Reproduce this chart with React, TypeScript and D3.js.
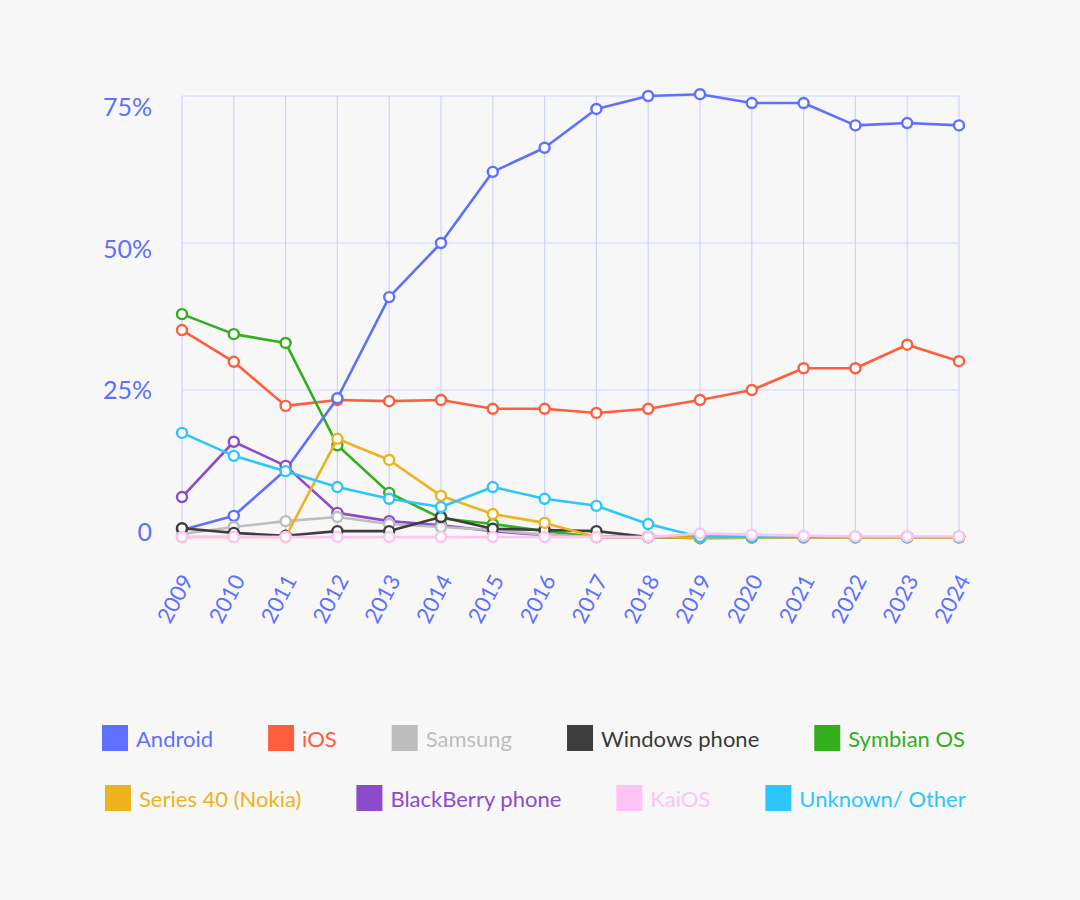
import { useEffect, useRef } from "react";
import * as d3 from "d3";

const years = [
  "2009", "2010", "2011", "2012", "2013", "2014", "2015", "2016",
  "2017", "2018", "2019", "2020", "2021", "2022", "2023", "2024",
];

const android = [1.2, 3.6, 11.4, 23.6, 40.8, 50, 62.1, 66.2, 72.8, 75, 75.3, 73.8, 73.8, 70, 70.4, 70];
const ios = [35.2, 29.8, 22.3, 23.3, 23.1, 23.3, 21.8, 21.8, 21.1, 21.8, 23.3, 25, 28.7, 28.7, 32.7, 29.9];
const samsung = [0.5, 1.7, 2.7, 3.4, 2.2, 1.7, 1.2, 0.4, 0, 0, 0, 0, 0, 0, 0, 0];
const windowsPhone = [1.5, 0.7, 0.2, 1.0, 1.0, 3.4, 1.4, 1.2, 1.0, 0, 0, 0, 0, 0, 0, 0];
const symbian = [37.9, 34.5, 33, 15.6, 7.5, 3.2, 2.2, 1.0, 0, 0, -0.2, -0.1, 0, 0, 0, 0];
const series40 = [0, 0, 0, 16.7, 13.1, 7.0, 3.9, 2.4, 0, 0, -0.1, -0.1, -0.1, -0.1, -0.1, -0.1];
const blackberry = [6.8, 16.2, 12.1, 4.1, 2.7, 2.0, 1.0, 0.3, 0, 0, 0, 0, 0, 0, 0, 0];
const kaios = [0, 0, 0, 0, 0, 0, 0, 0, 0, 0, 0.6, 0.4, 0.2, 0.1, 0.1, 0.1];
const unknownOther = [17.7, 13.8, 11.2, 8.5, 6.5, 5.1, 8.5, 6.5, 5.3, 2.2, 0, 0, 0, 0, 0, 0];

const yTicks = [0, 25, 50, 75];
const yTickLabels = ["0", "25%", "50%", "75%"];

const legendRows = [
  ["Android", "iOS", "Samsung", "Windows phone", "Symbian OS"],
  ["Series 40 (Nokia)", "BlackBerry phone", "KaiOS", "Unknown/ Other"],
];

const seriesList = [
  { name: "Android", values: android, color: "#5F6FFF", text: "#5F6FFF" },
  { name: "iOS", values: ios, color: "#FF5E3D", text: "#FF5E3D" },
  { name: "Samsung", values: samsung, color: "#BDBDBD", text: "#BDBDBD" },
  { name: "Windows phone", values: windowsPhone, color: "#3E3E3E", text: "#3A3A3A" },
  { name: "Symbian OS", values: symbian, color: "#33AE1C", text: "#33AE1C" },
  { name: "Series 40 (Nokia)", values: series40, color: "#EEB21E", text: "#EEB21E" },
  { name: "BlackBerry phone", values: blackberry, color: "#8B4BCB", text: "#8B4BCB" },
  { name: "KaiOS", values: kaios, color: "#FFC2F4", text: "#FFC2F4" },
  { name: "Unknown/ Other", values: unknownOther, color: "#2CC6FB", text: "#2CC6FB" },
];

// bottom -> top
const drawOrder = [
  "iOS", "Symbian OS", "Android", "BlackBerry phone", "Samsung",
  "Windows phone", "Series 40 (Nokia)", "Unknown/ Other", "KaiOS",
];

const WIDTH = 1080;
const HEIGHT = 900;
const FONT = "Lato, 'Open Sans', sans-serif";
const AXIS_COLOR = "#5F6FFF";
const GRID_COLOR = "#CDD3FF";

export default function App() {
  const svgRef = useRef<SVGSVGElement>(null);

  useEffect(() => {
    const svg = d3.select(svgRef.current);
    svg.selectAll("*").remove();

    svg.append("rect").attr("width", WIDTH).attr("height", HEIGHT).attr("fill", "#F7F7F7");

    const x = d3.scalePoint<string>().domain(years).range([182, 959]);
    const y = d3.scaleLinear().domain([0, 75]).range([537, 96]);
    // the tick labels sit slightly off the grid lines in the original
    const yLabel = d3.scaleLinear().domain([0, 75]).range([531, 106]);

    const grid = svg.append("g");
    grid
      .selectAll("line.v")
      .data(years)
      .join("line")
      .attr("x1", (d) => x(d)!)
      .attr("x2", (d) => x(d)!)
      .attr("y1", y(75))
      .attr("y2", y(0))
      .attr("stroke", GRID_COLOR)
      .attr("stroke-width", 1.2);
    grid
      .selectAll("line.h")
      .data(yTicks.filter((t) => t > 0))
      .join("line")
      .attr("x1", x(years[0])!)
      .attr("x2", x(years[years.length - 1])!)
      .attr("y1", (d) => y(d))
      .attr("y2", (d) => y(d))
      .attr("stroke", GRID_COLOR)
      .attr("stroke-width", 1.2);

    svg
      .append("g")
      .selectAll("text")
      .data(yTicks)
      .join("text")
      .attr("x", 152)
      .attr("y", (d) => yLabel(d))
      .attr("text-anchor", "end")
      .attr("dominant-baseline", "central")
      .attr("font-family", FONT)
      .attr("font-size", 25)
      .attr("fill", AXIS_COLOR)
      .text((_, i) => yTickLabels[i]);

    svg
      .append("g")
      .selectAll("text")
      .data(years)
      .join("text")
      .attr("transform", (d) => `translate(${x(d)! + 12},${580}) rotate(-62)`)
      .attr("text-anchor", "end")
      .attr("font-family", FONT)
      .attr("font-size", 22)
      .attr("fill", AXIS_COLOR)
      .text((d) => d);

    const line = d3
      .line<number>()
      .x((_, i) => x(years[i])!)
      .y((d) => y(d));

    drawOrder.forEach((name) => {
      const s = seriesList.find((d) => d.name === name)!;
      const g = svg.append("g");
      g.append("path")
        .attr("d", line(s.values))
        .attr("fill", "none")
        .attr("stroke", s.color)
        .attr("stroke-width", 2.6)
        .attr("stroke-linejoin", "round");
      g.selectAll("circle")
        .data(s.values)
        .join("circle")
        .attr("cx", (_, i) => x(years[i])!)
        .attr("cy", (d) => y(d))
        .attr("r", 5)
        .attr("fill", "#FFFFFF")
        .attr("stroke", s.color)
        .attr("stroke-width", 2.4);
    });

    const legend = svg.append("g");
    const rowY = [738, 798];
    const rowStart = [102, 105];
    legendRows.forEach((row, r) => {
      let cx = rowStart[r];
      row.forEach((name) => {
        const s = seriesList.find((d) => d.name === name)!;
        legend
          .append("rect")
          .attr("x", cx)
          .attr("y", rowY[r] - 13)
          .attr("width", 26)
          .attr("height", 26)
          .attr("fill", s.color);
        const t = legend
          .append("text")
          .attr("x", cx + 34)
          .attr("y", rowY[r])
          .attr("dominant-baseline", "central")
          .attr("font-family", FONT)
          .attr("font-size", 22)
          .attr("fill", s.text)
          .text(name);
        const w = (t.node() as SVGTextElement).getComputedTextLength();
        cx += 34 + w + 55;
      });
    });
  }, []);

  return (
    <div style={{ position: "absolute", left: 0, top: 0 }}>
      <svg ref={svgRef} width={WIDTH} height={HEIGHT} style={{ display: "block" }} />
    </div>
  );
}
